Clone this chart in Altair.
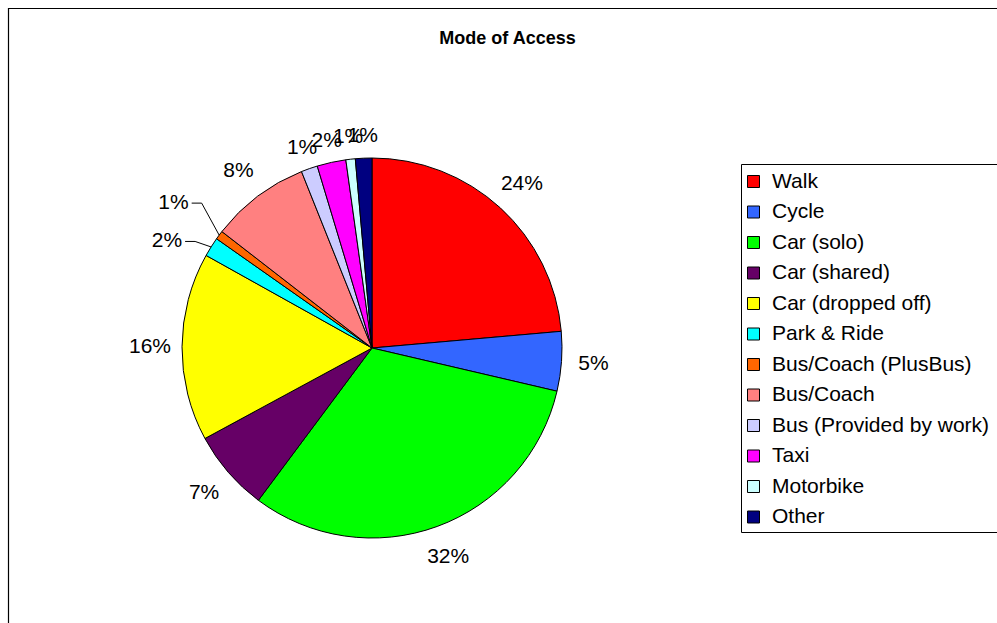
import altair as alt
import pandas as pd

# ---- data ----
modes = ["Walk", "Cycle", "Car (solo)", "Car (shared)", "Car (dropped off)", "Park & Ride",
         "Bus/Coach (PlusBus)", "Bus/Coach", "Bus (Provided by work)", "Taxi", "Motorbike", "Other"]
shares = [23.6, 5.05, 31.55, 6.9, 16.0, 1.65, 0.75, 8.45, 1.4, 2.45, 0.8, 1.4]
colors = ["#FF0000", "#3366FF", "#00FF00", "#660066", "#FFFF00", "#00FFFF",
          "#FF6600", "#FF8080", "#CCCCFF", "#FF00FF", "#CCFFFF", "#000080"]
chart_title = "Mode of Access"
leader_modes = ["Park & Ride", "Bus/Coach (PlusBus)"]

df = pd.DataFrame({"mode": modes, "share": shares, "idx": list(range(len(modes)))})
frame_df = pd.DataFrame({"k": [0]})

# ---- layout constants ----
W, H = 997, 623
CX, CY, R = 372, 348, 190
FONT = "Liberation Sans"

base = (
    alt.Chart(df)
    .transform_joinaggregate(total="sum(share)")
    .transform_window(cum="sum(share)", sort=[alt.SortField("idx")], frame=[None, 0])
    .transform_calculate(
        pct="datum.share / datum.total",
        start="2*PI*(datum.cum - datum.share)/datum.total",
        end="2*PI*datum.cum/datum.total",
        mid="2*PI*(datum.cum - datum.share/2)/datum.total",
    )
)

outer = alt.Chart(frame_df).mark_rect(fill="white", stroke="#000000", strokeWidth=1.2).encode(
    x=alt.value(8.5), x2=alt.value(W + 200), y=alt.value(8.5), y2=alt.value(H + 200)
)

legend_box = alt.Chart(frame_df).mark_rect(fill="white", stroke="#000000", strokeWidth=1).encode(
    x=alt.value(741.5), x2=alt.value(W + 200), y=alt.value(164.5), y2=alt.value(532.5)
)

pie = base.mark_arc(radius=R, stroke="black", strokeWidth=1).encode(
    theta=alt.Theta("start:Q", scale=None),
    theta2="end:Q",
    x=alt.value(CX),
    y=alt.value(CY),
    color=alt.Color(
        "mode:N",
        sort=modes,
        scale=alt.Scale(domain=modes, range=colors),
        legend=alt.Legend(
            title=None,
            orient="none",
            legendX=743,
            legendY=171,
            padding=0,
            symbolType="square",
            symbolSize=144,
            symbolStrokeColor="black",
            symbolStrokeWidth=1,
            labelFont=FONT,
            labelFontSize=21,
            labelColor="black",
            labelOffset=8,
            labelLimit=400,
            rowPadding=8.5,
        ),
    ),
)

labels = (
    base.transform_filter(~alt.FieldOneOfPredicate(field="mode", oneOf=leader_modes))
    .transform_calculate(lr="datum.idx >= 8 ? 212 : 222")
    .mark_text(font=FONT, fontSize=21, color="black", align="center", baseline="middle")
    .encode(
        theta=alt.Theta("mid:Q", scale=None),
        radius=alt.Radius("lr:Q", scale=None),
        x=alt.value(CX),
        y=alt.value(CY),
        text=alt.Text("pct:Q", format=".0%"),
    )
)

leader = base.transform_filter(alt.FieldOneOfPredicate(field="mode", oneOf=leader_modes)).transform_calculate(
    ex=f"{CX} + {R}*sin(datum.mid)",
    ey=f"{CY} - {R}*cos(datum.mid)",
    kx="datum.ex + (datum.mode == 'Park & Ride' ? -16 : -17.5)",
    ky="datum.ey + (datum.mode == 'Park & Ride' ? -5.5 : -32)",
    hx="datum.kx - 10",
)

diag = leader.mark_rule(color="black", strokeWidth=1).encode(
    x=alt.X("ex:Q", scale=None, axis=None),
    y=alt.Y("ey:Q", scale=None, axis=None),
    x2="kx:Q",
    y2="ky:Q",
)
horiz = leader.mark_rule(color="black", strokeWidth=1).encode(
    x=alt.X("kx:Q", scale=None, axis=None),
    y=alt.Y("ky:Q", scale=None, axis=None),
    x2="hx:Q",
)
leader_text = leader.mark_text(
    font=FONT, fontSize=21, color="black", align="right", baseline="middle", dx=-3
).encode(
    x=alt.X("hx:Q", scale=None, axis=None),
    y=alt.Y("ky:Q", scale=None, axis=None),
    text=alt.Text("pct:Q", format=".0%"),
)

chart = (
    alt.layer(outer, legend_box, pie, diag, horiz, labels, leader_text)
    .properties(
        width=W,
        height=H,
        autosize=alt.AutoSizeParams(type="none"),
        padding=0,
        title=alt.TitleParams(
            text=chart_title,
            font=FONT,
            fontSize=18,
            fontWeight="bold",
            color="black",
            anchor="middle",
            frame="group",
            offset=0,
            dx=9,
            dy=48,
        ),
    )
    .configure_view(strokeWidth=0)
)

chart.save("out.html", embed_options={"renderer": "svg", "actions": False})
